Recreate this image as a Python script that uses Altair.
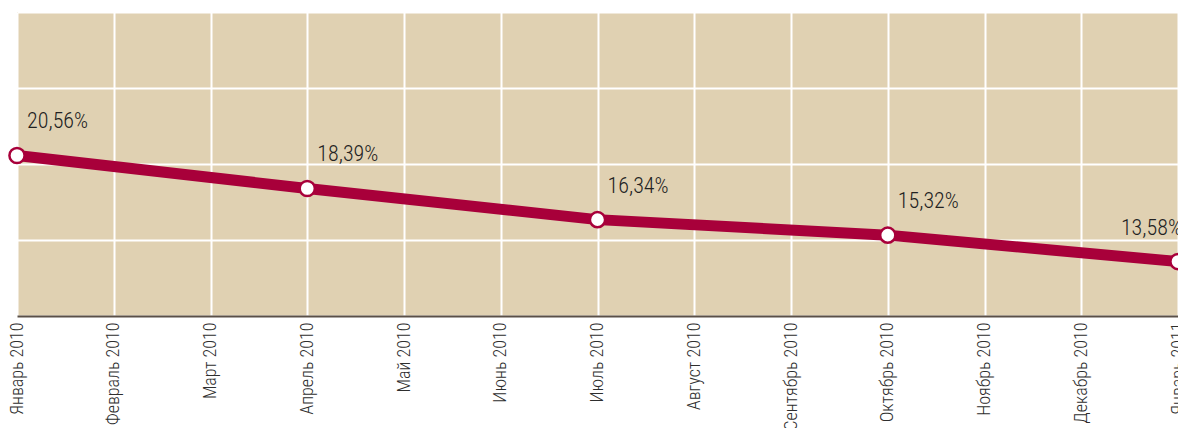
import altair as alt
import pandas as pd

months = ["Январь 2010", "Февраль 2010", "Март 2010", "Апрель 2010", "Май 2010",
          "Июнь 2010", "Июль 2010", "Август 2010", "Сентябрь 2010", "Октябрь 2010",
          "Ноябрь 2010", "Декабрь 2010", "Январь 2011"]
point_months = ["Январь 2010", "Апрель 2010", "Июль 2010", "Октябрь 2010", "Январь 2011"]
values = [20.56, 18.39, 16.34, 15.32, 13.58]
labels = ["20,56%", "18,39%", "16,34%", "15,32%", "13,58%"]

df = pd.DataFrame({"month": point_months, "value": values, "label": labels,
                   "last": [False, False, False, False, True]})

FONT = "Roboto Condensed, DejaVu Sans Condensed, Liberation Sans Narrow, Arial Narrow, Roboto"

x = alt.X("month:O", sort=months, scale=alt.Scale(domain=months, padding=0),
          axis=alt.Axis(title=None, labelAngle=-90, labelAlign="right", labelBaseline="middle",
                        labelFont=FONT, labelFontSize=18, labelFontWeight=300,
                        labelColor="#2e2e2e",
                        labelPadding=6, ticks=False, domainColor="#5a5048", domainWidth=2,
                        grid=True, gridColor="white", gridWidth=2, labelOverlap=False))
y = alt.Y("value:Q", scale=alt.Scale(domain=[10, 30]),
          axis=alt.Axis(title=None, labels=False, ticks=False, domain=False,
                        values=[10, 15, 20, 25, 30], grid=True, gridColor="white", gridWidth=2))

base = alt.Chart(df)
line = base.mark_line(color="#a8003a", strokeWidth=11).encode(x=x, y=y)
pts = base.mark_point(filled=True, fill="white", stroke="#a8003a", strokeWidth=2.5,
                      size=230, opacity=1).encode(x=x, y=y)
txt = base.transform_filter("!datum.last").mark_text(
    align="left", baseline="middle", dx=10, dy=-34, font=FONT, fontSize=22, fontWeight=300,
    color="#222222").encode(x=x, y=y, text="label:N")
txt_last = base.transform_filter("datum.last").mark_text(
    align="right", baseline="middle", dx=4, dy=-34, font=FONT, fontSize=22, fontWeight=300,
    color="#222222").encode(x=x, y=y, text="label:N")

chart = alt.layer(line, pts, txt, txt_last).properties(
    width=1161, height=304,
    autosize=alt.AutoSizeParams(type="none"),
    padding={"left": 9, "top": 4, "right": 0, "bottom": 112},
    background="white",
).configure_view(fill="#e0d1b2", stroke=None)

chart.save("out.html", embed_options={"renderer": "svg", "actions": False})
